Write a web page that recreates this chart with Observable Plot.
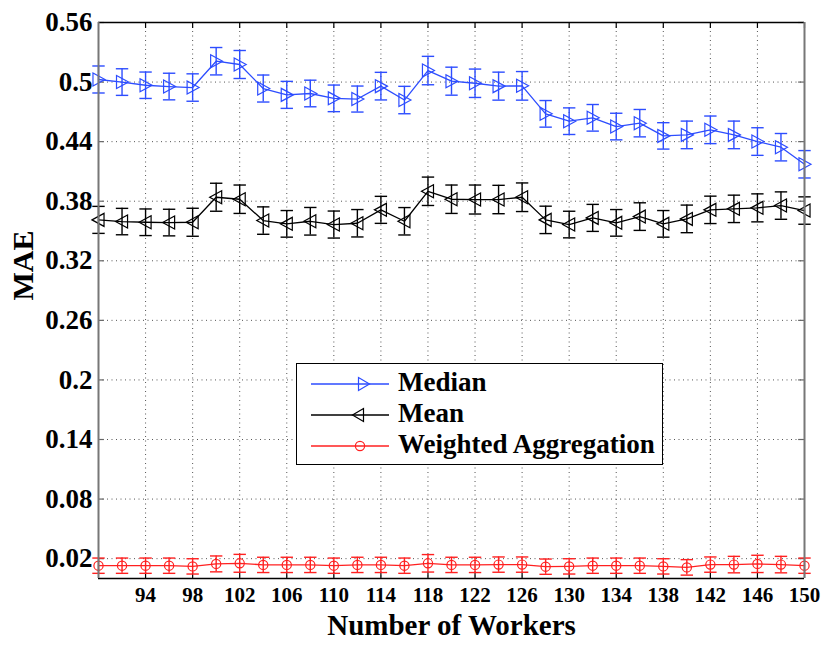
<!DOCTYPE html>
<html>
<head>
<meta charset="utf-8">
<script src="https://cdn.jsdelivr.net/npm/d3@7"></script>
<script src="https://cdn.jsdelivr.net/npm/@observablehq/plot@0.6"></script>
<style>
  html, body { margin: 0; padding: 0; background: #fff; }
  #wrap { position: relative; width: 830px; height: 647px; }
  #chart svg, #chart svg text { font-family: "Liberation Serif", "Times New Roman", serif !important; }
  #legend { position: absolute; left: 296px; top: 363px; width: 367px; height: 102px;
            border: 1.5px solid #000; background: #fff; box-sizing: border-box; }
  .lrow { position: absolute; left: 0; height: 30px; width: 100%; }
  .lrow svg { position: absolute; left: 14px; top: 0; }
  .lrow span { position: absolute; left: 101px; top: 50%; transform: translateY(-54%);
               font: bold 27px "Liberation Serif", "Times New Roman", serif; color: #000; white-space: nowrap; }
</style>
</head>
<body>
<div id="wrap"><div id="chart"></div><div id="legend"></div></div>
<script>
const workers = [90,92,94,96,98,100,102,104,106,108,110,112,114,116,118,120,122,124,126,128,130,132,134,136,138,140,142,144,146,148,150];
const median = [0.5026,0.5000,0.4968,0.4955,0.4945,0.5210,0.5177,0.4935,0.4871,0.4885,0.4836,0.4829,0.4959,0.4819,0.5116,0.5009,0.4988,0.4959,0.4962,0.4680,0.4606,0.4640,0.4552,0.4586,0.4458,0.4468,0.4519,0.4468,0.4401,0.4344,0.4172];
const medianErr = [0.0136,0.0134,0.0133,0.0134,0.0138,0.0138,0.0141,0.0136,0.0136,0.0134,0.0134,0.0131,0.0139,0.0138,0.0143,0.0141,0.0143,0.0141,0.0144,0.0134,0.0134,0.0134,0.0134,0.0138,0.0133,0.0139,0.0139,0.0139,0.0139,0.0138,0.0138];
const mean = [0.3612,0.3595,0.3588,0.3585,0.3588,0.3840,0.3820,0.3605,0.3572,0.3598,0.3565,0.3578,0.3713,0.3598,0.3900,0.3820,0.3817,0.3817,0.3840,0.3612,0.3565,0.3632,0.3582,0.3645,0.3572,0.3622,0.3713,0.3723,0.3733,0.3756,0.3706];
const meanErr = [0.0136,0.0133,0.0134,0.0134,0.0141,0.0141,0.0143,0.0138,0.0134,0.0139,0.0136,0.0138,0.0136,0.0138,0.0143,0.0143,0.0146,0.0143,0.0144,0.0138,0.0134,0.0136,0.0134,0.0139,0.0134,0.0139,0.0138,0.0138,0.0141,0.0138,0.0138];
const weighted = [0.0129,0.0129,0.0129,0.0129,0.0122,0.0147,0.0153,0.0137,0.0137,0.0137,0.0129,0.0137,0.0137,0.0129,0.0153,0.0137,0.0137,0.0140,0.0140,0.0119,0.0122,0.0129,0.0129,0.0129,0.0122,0.0112,0.0140,0.0140,0.0147,0.0140,0.0129];
const weightedErr = [0.0077,0.0077,0.0077,0.0077,0.0077,0.0080,0.0090,0.0077,0.0077,0.0077,0.0077,0.0077,0.0077,0.0077,0.0088,0.0077,0.0077,0.0077,0.0077,0.0077,0.0077,0.0077,0.0077,0.0077,0.0077,0.0078,0.0077,0.0083,0.0087,0.0083,0.0077];
const xTicks = [94,98,102,106,110,114,118,122,126,130,134,138,142,146,150];
const yTicks = [0.02,0.08,0.14,0.2,0.26,0.32,0.38,0.44,0.5,0.56];
const seriesNames = ["Median", "Mean", "Weighted Aggregation"];
const seriesColors = ["#2d4dff", "#000000", "#ff2020"];

const FONT = "Liberation Serif";

// custom symbols
const rad = size => Math.sqrt(size / Math.PI);
const triRight = { draw(c, size) { const r = rad(size); c.moveTo(r, 0); c.lineTo(-r * 0.85, -r); c.lineTo(-r * 0.85, r); c.closePath(); } };
const triLeft = { draw(c, size) { const r = rad(size); c.moveTo(-r, 0); c.lineTo(r * 0.85, -r); c.lineTo(r * 0.85, r); c.closePath(); } };
const cap = { draw(c, size) { const r = rad(size); c.moveTo(-r, 0); c.lineTo(r, 0); } };

const makeRows = (vals, errs) => workers.map((x, i) => ({ x, y: vals[i], e: errs[i] }));
const series = [
  { rows: makeRows(median, medianErr), color: seriesColors[0], symbol: triRight, r: 6.5 },
  { rows: makeRows(mean, meanErr), color: seriesColors[1], symbol: triLeft, r: 6.5 },
  { rows: makeRows(weighted, weightedErr), color: seriesColors[2], symbol: "circle", r: 4.6 }
];

const marks = [
  Plot.ruleX(xTicks.filter(d => d < 150), { stroke: "#555", strokeDasharray: "1,3.5", strokeWidth: 1 }),
  Plot.ruleY(yTicks.filter(d => d < 0.56), { stroke: "#555", strokeDasharray: "1,3.5", strokeWidth: 1 }),
  // inward tick marks
  Plot.ruleX(xTicks, { y1: 0, y2: 0.006, stroke: "#000", strokeWidth: 1.2 }),
  Plot.ruleX(xTicks, { y1: 0.554, y2: 0.56, stroke: "#000", strokeWidth: 1.2 }),
  Plot.ruleY(yTicks, { x1: 90, x2: 90.5, stroke: "#666", strokeWidth: 1.2 }),
  Plot.ruleY(yTicks, { x1: 149.5, x2: 150, stroke: "#666", strokeWidth: 1.2 }),
  Plot.axisX({ ticks: xTicks, tickSize: 0, tickPadding: 9, fontSize: 21, fontWeight: "bold", fontFamily: FONT, label: null, tickFormat: d => String(d) }),
  Plot.axisY({ ticks: yTicks, tickSize: 0, tickPadding: 6, fontSize: 27, fontWeight: "bold", fontFamily: FONT, label: null, tickFormat: d => String(d) })
];

for (const s of series) {
  marks.push(
    Plot.ruleX(s.rows, { x: "x", y1: d => d.y - d.e, y2: d => d.y + d.e, stroke: s.color, strokeWidth: 1.4 }),
    Plot.dot(s.rows, { x: "x", y: d => d.y + d.e, symbol: cap, r: 6.2, stroke: s.color, strokeWidth: 1.4 }),
    Plot.dot(s.rows, { x: "x", y: d => d.y - d.e, symbol: cap, r: 6.2, stroke: s.color, strokeWidth: 1.4 }),
    Plot.line(s.rows, { x: "x", y: "y", stroke: s.color, strokeWidth: 1.3 }),
    Plot.dot(s.rows, { x: "x", y: "y", symbol: s.symbol, r: s.r, stroke: s.color, fill: "none", strokeWidth: 1.2 })
  );
}

marks.push(
  Plot.ruleY([0, 0.56], { stroke: "#000", strokeWidth: 1.5 }),
  Plot.ruleX([90, 150], { stroke: "#777", strokeWidth: 2 }),
  Plot.text(["Number of Workers"], { frameAnchor: "bottom", lineAnchor: "bottom", dy: 56, fontSize: 29, fontWeight: "bold", fontFamily: FONT, fill: "#000" }),
  Plot.text(["MAE"], { frameAnchor: "left", dx: -75, rotate: -90, fontSize: 30, fontWeight: "bold", fontFamily: FONT, fill: "#000" })
);

const chart = Plot.plot({
  width: 830,
  height: 647,
  marginLeft: 98,
  marginRight: 26,
  marginTop: 22,
  marginBottom: 69,
  x: { domain: [90, 150] },
  y: { domain: [0, 0.56] },
  style: { fontFamily: FONT, background: "#fff", color: "#000", overflow: "visible" },
  marks
});
document.getElementById("chart").appendChild(chart);

// legend (inside plot area, as in the reference)
const legend = document.getElementById("legend");
const legendSymbols = [
  '<polygon points="47.5,-6.5 47.5,6.5 58.5,0" fill="none" stroke="COLOR" stroke-width="1.2"/>',
  '<polygon points="52.5,-6.5 52.5,6.5 41.5,0" fill="none" stroke="COLOR" stroke-width="1.2"/>',
  '<circle cx="49" cy="0" r="4.6" fill="none" stroke="COLOR" stroke-width="1.2"/>'
];
const rowTops = [5, 36, 67];
seriesNames.forEach((name, i) => {
  const row = document.createElement("div");
  row.className = "lrow";
  row.style.top = rowTops[i] + "px";
  const c = seriesColors[i];
  row.innerHTML =
    `<svg width="82" height="30" viewBox="0 -15 82 30"><line x1="0" x2="78" y1="0" y2="0" stroke="${c}" stroke-width="1.3"/>` +
    legendSymbols[i].replace("COLOR", c) + `</svg><span>${name}</span>`;
  legend.appendChild(row);
});
</script>
</body>
</html>
